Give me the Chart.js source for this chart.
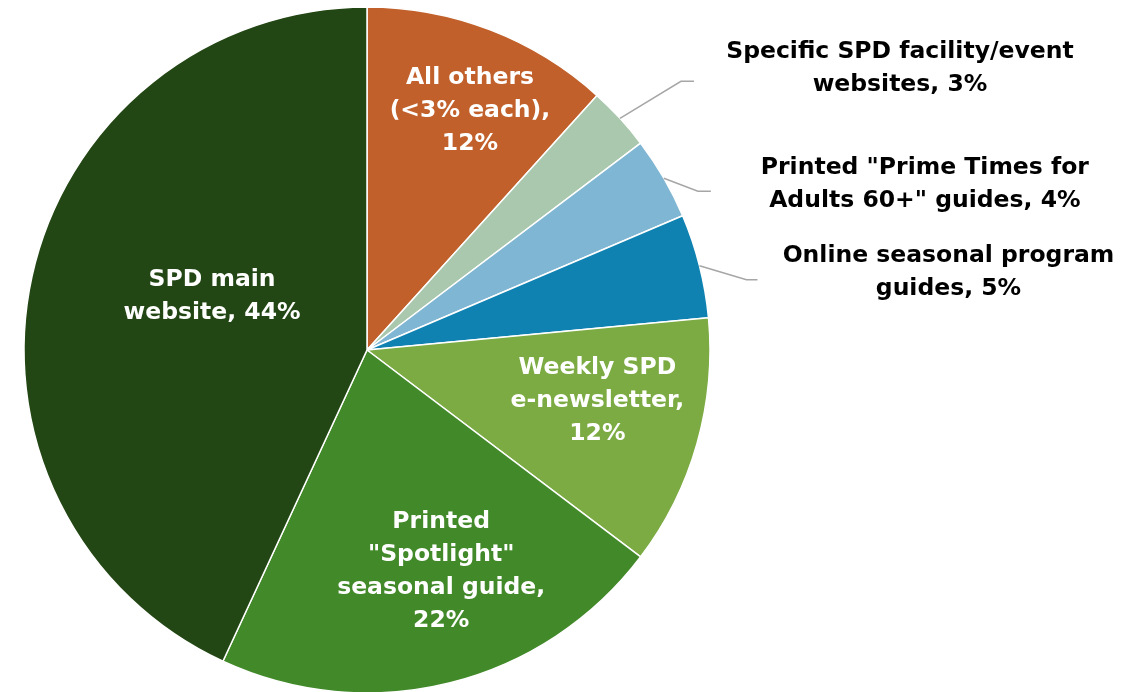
<!DOCTYPE html>
<html><head><meta charset="utf-8">
<script src="https://cdn.jsdelivr.net/npm/chart.js@4.4.1/dist/chart.umd.min.js"></script>
<style>html,body{margin:0;padding:0;background:#fff}#wrap{width:1145px;height:692px;position:relative}</style>
</head><body>
<div id="wrap"><canvas id="c"></canvas></div>
<script>
// ---- data ----
const categories = ['All others (<3% each)', 'Specific SPD facility/event websites', 'Printed "Prime Times for Adults 60+" guides', 'Online seasonal program guides', 'Weekly SPD e-newsletter', 'Printed "Spotlight" seasonal guide', 'SPD main website'];
const shares = [11.7, 3.0, 3.9, 4.9, 11.8, 21.6, 43.1];
const labelLines = [
  ['All others', '(<3% each),', '12%'],
  ['Specific SPD facility/event', 'websites, 3%'],
  ['Printed "Prime Times for', 'Adults 60+" guides, 4%'],
  ['Online seasonal program', 'guides, 5%'],
  ['Weekly SPD', 'e-newsletter,', '12%'],
  ['Printed', '"Spotlight"', 'seasonal guide,', '22%'],
  ['SPD main', 'website, 44%']
];
const colors = ['#C1602A', '#A9C8AD', '#7FB6D3', '#0F82B1', '#7CAB43', '#428929', '#234714'];

// ---- label layout (positions/styles only) ----
const labelLayout = [
  {type: 'in', frac: 0.76, adj: 2.2},
  {type: 'out', elbow: [61, -37], run: 13, text: [206, -13]},
  {type: 'out', elbow: [34, 13], run: 13, text: [214, -6.5]},
  {type: 'out', elbow: [47, 14], run: 11, text: [191, -7]},
  {type: 'in', frac: 0.688, adj: -3.3},
  {type: 'in', frac: 0.68, adj: -4.5},
  {type: 'in', frac: 0.478, adj: 6.7}
];
const FONT = 'bold 23.5px "DejaVu Sans", Verdana, sans-serif';
const LINE_H = 33;

const labelPlugin = {
  id: 'sliceLabels',
  afterDatasetsDraw(chart) {
    const ctx = chart.ctx;
    const meta = chart.getDatasetMeta(0);
    ctx.save();
    ctx.font = FONT;
    ctx.textAlign = 'center';
    ctx.textBaseline = 'middle';
    meta.data.forEach((arc, i) => {
      const p = arc.getProps(['x', 'y', 'startAngle', 'endAngle', 'outerRadius'], true);
      const L = labelLayout[i];
      const mid = (p.startAngle + p.endAngle) / 2;
      const lines = labelLines[i];
      let cx, cy;
      if (L.type === 'in') {
        const a = mid + L.adj * Math.PI / 180;
        cx = p.x + Math.cos(a) * p.outerRadius * L.frac;
        cy = p.y + Math.sin(a) * p.outerRadius * L.frac;
        ctx.fillStyle = '#FFFFFF';
      } else {
        const sx = p.x + Math.cos(mid) * p.outerRadius;
        const sy = p.y + Math.sin(mid) * p.outerRadius;
        const ex = sx + L.elbow[0], ey = sy + L.elbow[1];
        ctx.beginPath();
        ctx.strokeStyle = '#A6A6A6';
        ctx.lineWidth = 1.5;
        ctx.moveTo(sx, sy);
        ctx.lineTo(ex, ey);
        ctx.lineTo(ex + L.run, ey);
        ctx.stroke();
        cx = ex + L.run + L.text[0];
        cy = ey + L.text[1];
        ctx.fillStyle = '#000000';
      }
      const top = cy - (lines.length - 1) * LINE_H / 2;
      lines.forEach((t, k) => ctx.fillText(t, cx, top + k * LINE_H));
    });
    ctx.restore();
  }
};

new Chart(document.getElementById('c'), {
  type: 'pie',
  data: {
    labels: categories,
    datasets: [{
      data: shares,
      backgroundColor: colors,
      borderColor: '#FFFFFF',
      borderWidth: 1.5,
      clip: false
    }]
  },
  options: {
    responsive: true,
    maintainAspectRatio: false,
    animation: false,
    radius: 343,
    layout: {padding: {left: 0, right: 411, top: 8, bottom: 0}},
    plugins: {legend: {display: false}, tooltip: {enabled: false}}
  },
  plugins: [labelPlugin]
});
</script>
</body></html>
